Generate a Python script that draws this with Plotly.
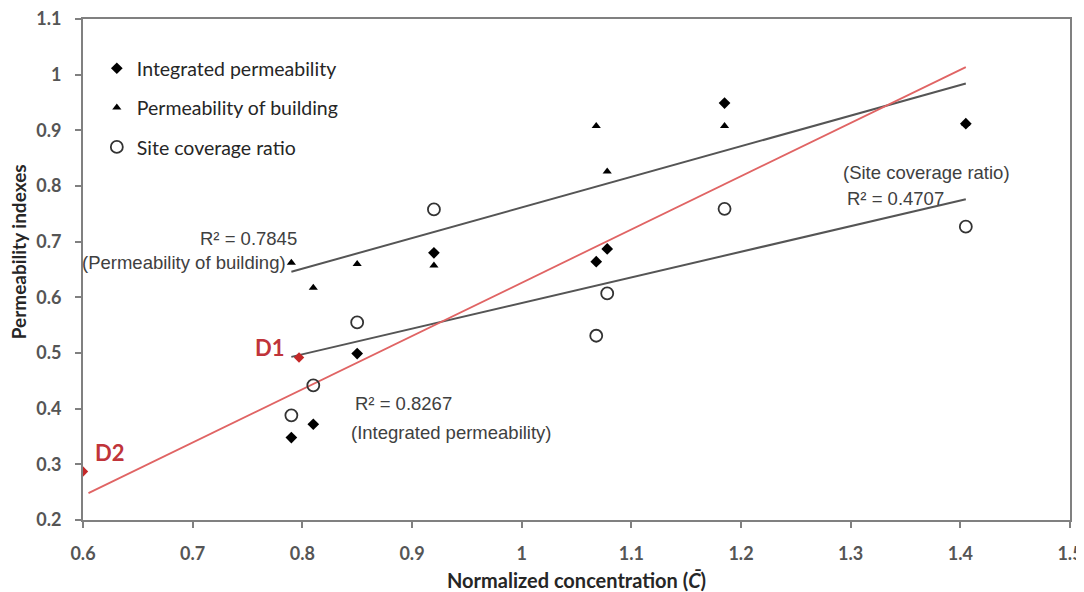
import numpy as np
import plotly.graph_objects as go

# ---- data ----
x_conc = [0.79, 0.81, 0.85, 0.92, 1.068, 1.078, 1.185, 1.405]
integrated = [0.348, 0.372, 0.499, 0.680, 0.664, 0.687, 0.949, 0.912]
building = [0.662, 0.617, 0.660, 0.657, 0.908, 0.826, 0.908, 0.912]
site_cov = [0.388, 0.442, 0.555, 0.758, 0.531, 0.607, 0.759, 0.727]

d_labels = ["D1", "D2"]
d_x = [0.797, 0.600]
d_y = [0.492, 0.287]

red_fit_start = 0.605  # integrated trend line extends to the left (towards D2)
gray_fit_start = 0.79

x_ticks = [0.6, 0.7, 0.8, 0.9, 1.0, 1.1, 1.2, 1.3, 1.4, 1.5]
y_ticks = [0.2, 0.3, 0.4, 0.5, 0.6, 0.7, 0.8, 0.9, 1.0, 1.1]
x_tick_text = ["0.6", "0.7", "0.8", "0.9", "1", "1.1", "1.2", "1.3", "1.4", "1.5"]
y_tick_text = ["0.2", "0.3", "0.4", "0.5", "0.6", "0.7", "0.8", "0.9", "1", "1.1"]


def fit_line(xs, ys, x0, x1):
    k, b = np.polyfit(np.array(xs), np.array(ys), 1)
    xx = np.array([x0, x1])
    return xx, k * xx + b


fig = go.Figure()

# trend lines
xb, yb = fit_line(x_conc, building, gray_fit_start, max(x_conc))
fig.add_trace(go.Scatter(x=xb, y=yb, mode="lines", line=dict(color="#555555", width=2),
                         showlegend=False, hoverinfo="skip"))
xs_, ys_ = fit_line(x_conc, site_cov, gray_fit_start, max(x_conc))
fig.add_trace(go.Scatter(x=xs_, y=ys_, mode="lines", line=dict(color="#555555", width=2),
                         showlegend=False, hoverinfo="skip"))
xi, yi = fit_line(x_conc, integrated, red_fit_start, max(x_conc))
fig.add_trace(go.Scatter(x=xi, y=yi, mode="lines", line=dict(color="#e06464", width=1.8),
                         showlegend=False, hoverinfo="skip"))

# scatter series
fig.add_trace(go.Scatter(x=x_conc, y=integrated, mode="markers", name="Integrated permeability",
                         legendgroup="a",
                         marker=dict(symbol="diamond", size=9, color="black")))
fig.add_trace(go.Scatter(x=x_conc, y=building, mode="markers", name="Permeability of building",
                         legendgroup="b",
                         marker=dict(symbol="triangle-up", size=8, color="black")))
fig.add_trace(go.Scatter(x=x_conc, y=site_cov, mode="markers", name="Site coverage ratio",
                         legendgroup="c",
                         marker=dict(symbol="circle-open", size=12, color="#333333",
                                     line=dict(width=1.8, color="#333333"))))

# D1 / D2 points
fig.add_trace(go.Scatter(x=d_x, y=d_y, mode="markers", showlegend=False,
                         marker=dict(symbol="diamond", size=8, color="#c42828")))

ann_font = dict(family="Liberation Sans, Arial, sans-serif", size=18.5, color="#404040")
annotations = [
    dict(x=0.797, y=0.705, text="R² = 0.7845", xanchor="right", yanchor="middle", font=ann_font),
    dict(x=0.787, y=0.662, text="(Permeability of building)", xanchor="right", yanchor="middle", font=ann_font),
    dict(x=0.846, y=0.409, text="R² = 0.8267", xanchor="left", yanchor="middle", font=ann_font),
    dict(x=0.843, y=0.357, text="(Integrated permeability)", xanchor="left", yanchor="middle", font=ann_font),
    dict(x=1.2915, y=0.824, text="(Site coverage ratio)", xanchor="left", yanchor="middle", font=ann_font),
    dict(x=1.295, y=0.777, text="R² = 0.4707", xanchor="left", yanchor="middle", font=ann_font),
]
d_font = dict(family="Lato, sans-serif", size=22, color="#c0343a", weight="bold")
annotations.append(dict(x=0.786, y=0.510, text=d_labels[0], xanchor="right",
                        yanchor="middle", font=d_font))
annotations.append(dict(x=0.609, y=0.322, text=d_labels[1], xanchor="left",
                        yanchor="middle", font=d_font))
for a in annotations:
    a.update(xref="x", yref="y", showarrow=False)

# axis titles as annotations (paper coords)
annotations.append(dict(xref="paper", yref="paper", x=0.5, y=-0.12, xanchor="center", yanchor="middle",
                        text="Normalized concentration (<i>C̄</i>)", showarrow=False,
                        font=dict(family="Lato, sans-serif", size=20, color="#262626", weight="bold")))
annotations.append(dict(xref="paper", yref="paper", x=-0.065, y=0.536, xanchor="center", yanchor="middle",
                        text="Permeability indexes", textangle=-90, showarrow=False,
                        font=dict(family="Lato, sans-serif", size=19, color="#262626", weight="bold")))

tick_font = dict(family="Lato, sans-serif", size=18, color="#555555", weight="bold")

# the page body adds an 8px margin, so the figure is sized to end at the window's edge
fig.update_layout(
    width=1076, height=584,
    margin=dict(l=75, r=14, t=11, b=72),
    paper_bgcolor="white", plot_bgcolor="white",
    showlegend=True,
    legend=dict(x=0.014, y=0.94, xanchor="left", yanchor="top",
                font=dict(family="Lato, sans-serif", size=19.5, color="#262626"),
                bgcolor="rgba(0,0,0,0)", traceorder="grouped", tracegroupgap=11,
                itemwidth=30),
    annotations=annotations,
)
fig.update_xaxes(range=[0.6, 1.5], tickvals=x_ticks, ticktext=x_tick_text, showgrid=False, zeroline=False,
                 showline=True, linecolor="#808080", linewidth=2, mirror=True, automargin=False,
                 ticks="outside", ticklen=6, tickcolor="#808080", tickwidth=2,
                 ticklabelstandoff=10, tickfont=tick_font, ticklabeloverflow="allow")
fig.update_yaxes(range=[0.2, 1.1], tickvals=y_ticks, ticktext=y_tick_text, showgrid=False, zeroline=False,
                 showline=True, linecolor="#808080", linewidth=2, mirror=True, automargin=False,
                 ticks="outside", ticklen=6, tickcolor="#808080", tickwidth=2,
                 ticklabelstandoff=10, tickfont=tick_font, ticklabeloverflow="allow")

fig.write_html("out.html")
